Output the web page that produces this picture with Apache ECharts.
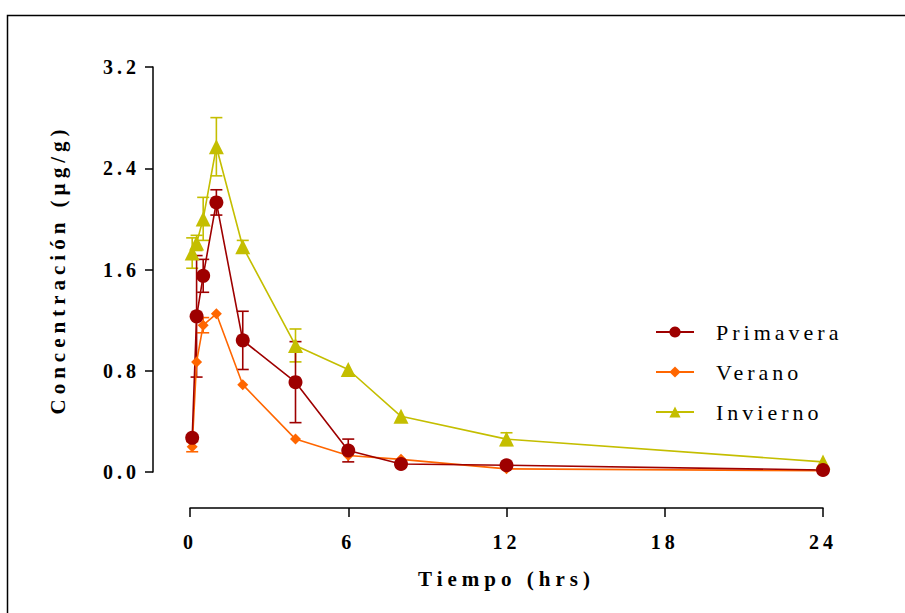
<!DOCTYPE html>
<html>
<head>
<meta charset="utf-8">
<script src="https://cdn.jsdelivr.net/npm/echarts@6/dist/echarts.min.js"></script>
<style>
html,body{margin:0;padding:0;background:#fff;}
#c{width:905px;height:613px;}
svg text{letter-spacing:4px;}
svg text[style*="21px"]{letter-spacing:5px;}
</style>
</head>
<body>
<div id="c"></div>
<script>
const times = [0.083, 0.25, 0.5, 1, 2, 4, 6, 8, 12, 24];
const primavera   = [0.27, 1.23, 1.55, 2.13, 1.04, 0.71, 0.17, 0.063, 0.053, 0.016];
const primaveraSD = [0, 0.48, 0.13, 0.10, 0.23, 0.32, 0.09, 0, 0, 0];
const verano      = [0.20, 0.87, 1.16, 1.25, 0.69, 0.26, 0.13, 0.10, 0.025, 0.01];
const veranoSD    = [0.04, 0, 0.06, 0, 0, 0, 0, 0, 0, 0];
const invierno    = [1.73, 1.81, 2.00, 2.57, 1.78, 1.00, 0.81, 0.44, 0.26, 0.08];
const inviernoSD  = [0.12, 0.06, 0.17, 0.23, 0.05, 0.13, 0, 0, 0.05, 0];
const seriesNames = ['Primavera', 'Verano', 'Invierno'];
const colors = ['#9E0000', '#FF6600', '#C4BE00'];
const xTicks = [0, 6, 12, 18, 24];
const yTicks = [0, 0.8, 1.6, 2.4, 3.2];

const means = [primavera, verano, invierno];
const sds = [primaveraSD, veranoSD, inviernoSD];
const symbols = ['circle', 'diamond', 'triangle'];
const symbolSizes = [14, 11, 15];

const font = '"Liberation Serif", "Times New Roman", serif';

function errSeries(i) {
  return {
    type: 'custom',
    name: seriesNames[i] + ' SD',
    z: 1,
    silent: true,
    data: times.map((t, k) => [t, means[i][k], sds[i][k]]),
    renderItem: function (params, api) {
      const sd = api.value(2);
      if (!sd) return null;
      const x = api.value(0), m = api.value(1);
      const top = api.coord([x, m + sd]);
      const bot = api.coord([x, Math.max(m - sd, 0)]);
      const hw = 6;
      const st = { stroke: colors[i], lineWidth: 1.6 };
      return {
        type: 'group',
        children: [
          { type: 'line', shape: { x1: top[0], y1: top[1], x2: bot[0], y2: bot[1] }, style: st },
          { type: 'line', shape: { x1: top[0] - hw, y1: top[1], x2: top[0] + hw, y2: top[1] }, style: st },
          { type: 'line', shape: { x1: bot[0] - hw, y1: bot[1], x2: bot[0] + hw, y2: bot[1] }, style: st }
        ]
      };
    }
  };
}

function lineSeries(i) {
  return {
    type: 'line',
    name: seriesNames[i],
    z: 2,
    data: times.map((t, k) => [t, means[i][k]]),
    symbol: symbols[i],
    symbolSize: symbolSizes[i],
    showAllSymbol: true,
    lineStyle: { color: colors[i], width: 1.6 },
    itemStyle: { color: colors[i] },
    emphasis: { disabled: true },
    animation: false
  };
}

const series = [];
for (let i = 2; i >= 0; i--) { series.push(errSeries(i)); }
for (let i = 2; i >= 0; i--) { series.push(lineSeries(i)); }

const chart = echarts.init(document.getElementById('c'), null, { renderer: 'svg' });
chart.setOption({
  animation: false,
  backgroundColor: '#fff',
  grid: { left: 190, right: 82, top: 67, bottom: 141, containLabel: false },
  graphic: [{
    type: 'rect', left: 5, top: 13,
    shape: { width: 1000, height: 700 },
    style: { fill: 'none', stroke: '#000', lineWidth: 1.5 }
  }],
  legend: {
    data: seriesNames,
    orient: 'vertical',
    left: 650, top: 316,
    itemWidth: 38, itemHeight: 14, itemGap: 18,
    textStyle: { fontFamily: font, fontSize: 22, color: '#000', padding: [0, 0, 0, 17] },
    selectedMode: false
  },
  xAxis: {
    type: 'value', min: 0, max: 24, interval: 6,
    offset: 36,
    name: 'Tiempo (hrs)', nameLocation: 'middle', nameGap: 60,
    nameTextStyle: { fontFamily: font, fontSize: 21, fontWeight: 'bold', color: '#000' },
    axisLine: { show: true, onZero: false, lineStyle: { color: '#000', width: 1.5 } },
    axisTick: { show: true, length: 9, lineStyle: { color: '#000', width: 1.5 } },
    axisLabel: { fontFamily: font, fontSize: 20, fontWeight: 'bold', color: '#000', margin: 24 },
    splitLine: { show: false }
  },
  yAxis: {
    type: 'value', min: 0, max: 3.2, interval: 0.8,
    offset: 37,
    name: 'Concentración (µg/g)', nameLocation: 'middle', nameGap: 85, nameRotate: 90,
    nameTextStyle: { fontFamily: font, fontSize: 21, fontWeight: 'bold', color: '#000' },
    axisLine: { show: true, onZero: false, lineStyle: { color: '#000', width: 1.5 } },
    axisTick: { show: true, length: 8, lineStyle: { color: '#000', width: 1.5 } },
    axisLabel: { fontFamily: font, fontSize: 20, fontWeight: 'bold', color: '#000', margin: 13,
      formatter: v => v.toFixed(1) },
    splitLine: { show: false }
  },
  series: series
});
</script>
</body>
</html>
